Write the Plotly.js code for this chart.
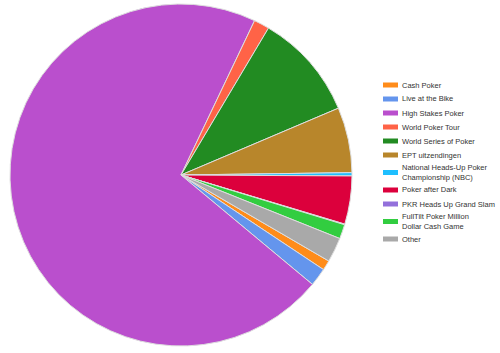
<!DOCTYPE html>
<html>
<head>
<meta charset="utf-8">
<script src="https://cdn.plot.ly/plotly-3.0.1.min.js"></script>
<style>html,body{margin:0;padding:0;background:#fff;}#chart{width:500px;height:353px;}</style>
</head>
<body>
<div id="chart"></div>
<script>
const labels = ["Cash Poker", "Live at the Bike", "High Stakes Poker", "World Poker Tour", "World Series of Poker", "EPT uitzendingen", "National Heads-Up Poker<br>Championship (NBC)", "Poker after Dark", "PKR Heads Up Grand Slam", "FullTilt Poker Million<br>Dollar Cash Game", "Other"];
const values = [0.94, 1.72, 71.03, 1.47, 10.06, 6.17, 0.31, 4.55, 0.06, 1.36, 2.33];
const colors = ["#FF8C1A", "#6495ED", "#BA4FCD", "#FF6347", "#228B22", "#B8862B", "#1EBFFF", "#DC003C", "#9370DB", "#32CD40", "#A9A9A9"];

const W = 500, H = 353;
// Legend drawn as swatches + text, laid out like the reference's side legend
const shapes = [], annotations = [];
let yPrev = null, hPrev = 0;
labels.forEach((lab, i) => {
  const lines = lab.split('<br>').length;
  const h = lines > 1 ? 21 : 14;
  const yc = (yPrev === null) ? 85 : yPrev + (hPrev + h) / 2;
  shapes.push({type: 'rect', xref: 'paper', yref: 'paper',
    x0: 383 / W, x1: 398 / W, y0: 1 - (yc + 2.5) / H, y1: 1 - (yc - 2.5) / H,
    fillcolor: colors[i], line: {width: 0}});
  annotations.push({xref: 'paper', yref: 'paper', x: 400 / W, y: 1 - yc / H,
    xanchor: 'left', yanchor: 'middle', align: 'left', showarrow: false,
    text: lab, font: {family: 'Liberation Sans, Arial, sans-serif', size: 7.5, color: '#333'}});
  yPrev = yc; hPrev = h;
});

Plotly.newPlot('chart', [{
  type: 'pie',
  labels: labels,
  values: values,
  sort: false,
  direction: 'clockwise',
  rotation: 120.2,
  textinfo: 'none',
  marker: {colors: colors, line: {color: '#dedede', width: 1}},
  domain: {x: [10 / W, 352 / W], y: [1 - 346 / H, 1 - 4 / H]}
}], {
  width: W, height: H,
  margin: {l: 0, r: 0, t: 0, b: 0, autoexpand: false},
  paper_bgcolor: '#fff',
  showlegend: false,
  shapes: shapes,
  annotations: annotations
}, {displayModeBar: false, staticPlot: true});
</script>
</body>
</html>
